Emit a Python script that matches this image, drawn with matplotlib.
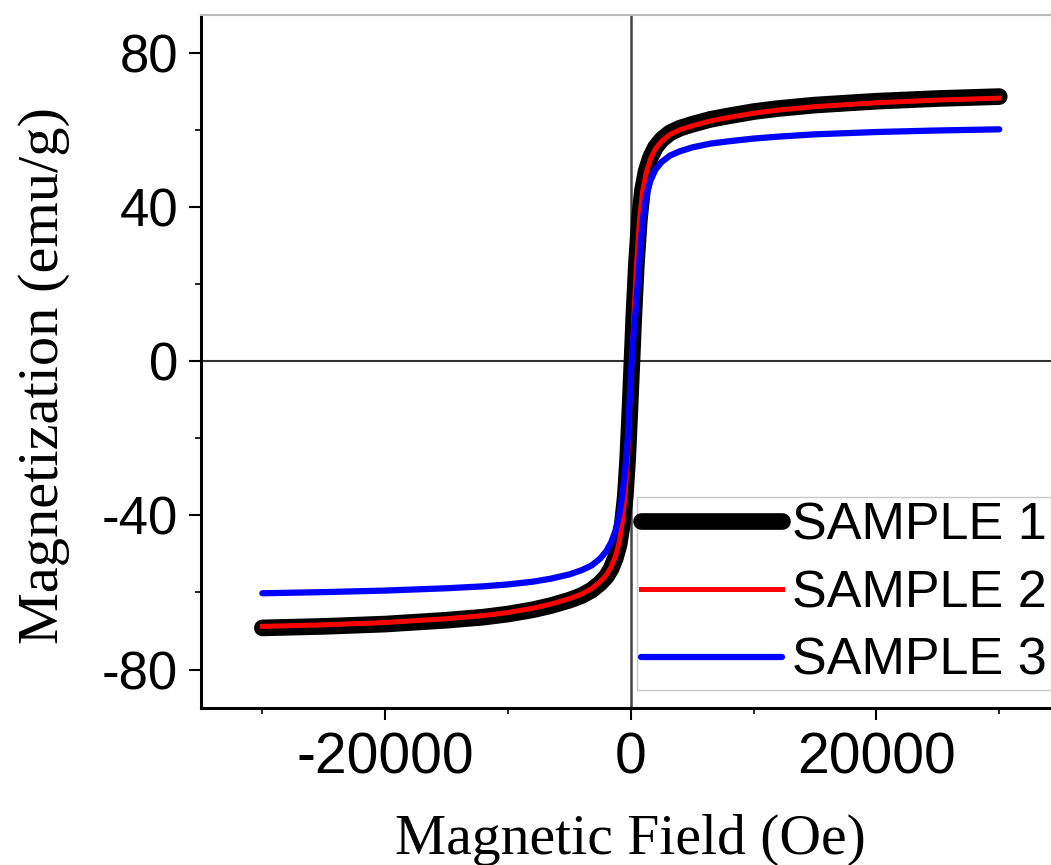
import matplotlib
matplotlib.use("Agg")
import matplotlib.pyplot as plt
from matplotlib.ticker import MultipleLocator, FixedLocator

plt.rcParams["axes.unicode_minus"] = False

# Field values (Oe)
field = [-30000, -25000, -20000, -15000, -12000, -10000, -8000, -6500, -5000,
         -4000, -3200, -2500, -2000, -1600, -1250, -950, -700, -450, -250,
         -80, 80, 250, 450, 700, 950, 1250, 1600, 2000, 2500, 3200, 4000,
         5000, 6500, 8000, 10000, 12000, 15000, 20000, 25000, 30000]

# Magnetization (emu/g) per sample
sample1 = [-69.2, -68.8, -68.2, -67.2, -66.4, -65.6, -64.5, -63.4, -62.0,
           -60.8, -59.4, -57.6, -55.9, -53.8, -51.0, -47.5, -42.5, -35.0,
           -25.0, -13.0, -1.0, 12.0, 25.0, 37.0, 44.5, 49.5, 53.0, 55.6,
           57.6, 59.4, 60.6, 61.6, 62.9, 63.8, 64.9, 65.7, 66.6, 67.6,
           68.3, 68.8]
sample2 = [-68.8, -68.4, -67.8, -66.8, -66.0, -65.2, -64.1, -63.0, -61.6,
           -60.4, -59.0, -57.2, -55.5, -53.4, -50.6, -47.0, -42.0, -34.5,
           -24.5, -12.0, -0.5, 12.0, 24.5, 36.5, 44.0, 49.0, 52.6, 55.2,
           57.2, 59.0, 60.2, 61.2, 62.5, 63.4, 64.5, 65.3, 66.2, 67.2,
           67.9, 68.4]
sample3 = [-60.2, -59.9, -59.5, -58.9, -58.4, -57.9, -57.2, -56.4, -55.3,
           -54.2, -53.0, -51.2, -49.3, -47.0, -44.0, -40.0, -35.0, -28.0,
           -20.0, -9.0, 0.5, 8.0, 15.0, 26.0, 36.0, 43.0, 47.0, 49.8, 51.8,
           53.5, 54.6, 55.6, 56.6, 57.2, 57.9, 58.4, 59.0, 59.6, 60.0, 60.3]

labels = ["SAMPLE 1", "SAMPLE 2", "SAMPLE 3"]

sans = "Liberation Sans"
serif = "Liberation Serif"

fig = plt.figure(figsize=(10.51, 8.65), dpi=100)
# axes runs a little past the right edge, like the cropped original
ax = fig.add_axes([0.1912, 0.1815, 0.818, 0.8012])

ax.axhline(0, color="#333333", lw=1.5, zorder=1)
ax.axvline(0, color="#444444", lw=1.8, zorder=1)

ax.plot(field, sample1, color="black", lw=12, solid_capstyle="round",
        solid_joinstyle="round", label=labels[0], zorder=2)
ax.plot(field, sample2, color="#ff0000", lw=3.6, solid_joinstyle="round",
        label=labels[1], zorder=3)
ax.plot(field, sample3, color="#0000ff", lw=4.5, solid_capstyle="round",
        solid_joinstyle="round", label=labels[2], zorder=4)

ax.set_xlim(-35000, 35000)
ax.set_ylim(-90, 90)

ax.xaxis.set_major_locator(FixedLocator([-20000, 0, 20000]))
ax.xaxis.set_minor_locator(FixedLocator([-30000, -10000, 10000, 30000]))
ax.yaxis.set_major_locator(MultipleLocator(40))
ax.yaxis.set_minor_locator(MultipleLocator(20))

ax.tick_params(which="major", direction="out", length=8.6, width=1.5, pad=8)
ax.tick_params(which="minor", direction="out", length=4.3, width=1.2)
ax.tick_params(axis="x", which="major", labelsize=41)
ax.tick_params(axis="y", which="major", labelsize=38)
for t in ax.get_xticklabels() + ax.get_yticklabels():
    t.set_fontfamily(sans)

ax.spines["left"].set_linewidth(2.2)
ax.spines["bottom"].set_linewidth(2.2)
ax.spines["top"].set_color("#bbbbbb")
ax.spines["top"].set_linewidth(1.5)
ax.spines["right"].set_visible(False)

ax.set_xlabel("Magnetic Field (Oe)", fontsize=41.5, family=serif)
ax.set_ylabel("Magnetization (emu/g)", fontsize=42, family=serif)
ax.xaxis.set_label_coords(0.499, -0.152)
ax.yaxis.set_label_coords(-0.152, 0.48)

leg = ax.legend(loc="lower right", bbox_to_anchor=(1.0, 0.2023),
                bbox_transform=fig.transFigure, borderaxespad=0,
                prop={"family": sans, "size": 37.5}, handlelength=2.7,
                handletextpad=0.2, labelspacing=0.36, borderpad=0.08,
                fancybox=False, framealpha=1)
leg.get_frame().set_edgecolor("#c8c8c8")
leg.get_frame().set_linewidth(1.0)
leg.set_zorder(5)

fig.savefig("out.png", dpi=100)
